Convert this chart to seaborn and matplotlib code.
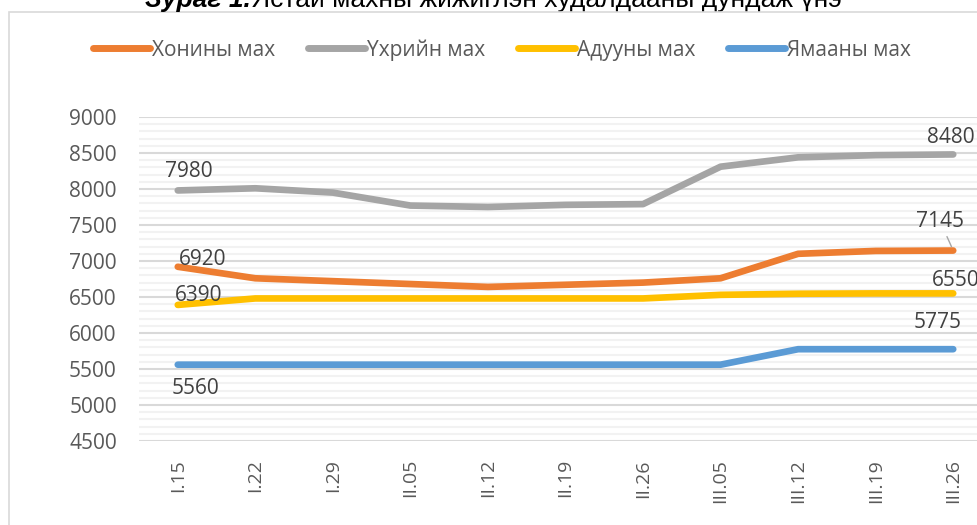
"""
plot.py — Average retail price of bone-in meat (line chart, Excel style).
"""

import matplotlib
matplotlib.use("Agg")
import matplotlib.pyplot as plt
import matplotlib.patches as mpatches
from matplotlib.ticker import MultipleLocator
import pandas as pd
import seaborn as sns


# ─────────────────────────────────────────────────────────────────────────────
# DATA
# ─────────────────────────────────────────────────────────────────────────────

dates = ["I.15", "I.22", "I.29", "II.05", "II.12", "II.19", "II.26",
         "III.05", "III.12", "III.19", "III.26"]

series_names = ["Хонины мах", "Үхрийн мах", "Адууны мах", "Ямааны мах"]

mutton = [6920, 6760, 6720, 6680, 6640, 6670, 6700, 6760, 7100, 7140, 7145]
beef = [7980, 8010, 7950, 7770, 7750, 7780, 7790, 8310, 8440, 8470, 8480]
horse = [6390, 6480, 6480, 6480, 6480, 6480, 6480, 6530, 6545, 6550, 6550]
goat = [5560, 5560, 5560, 5560, 5560, 5560, 5560, 5560, 5775, 5775, 5775]

title_bold = "Зураг 1."
title_rest = "Ястай махны жижиглэн худалдааны дундаж үнэ"

colors = ["#ED7D31", "#A5A5A5", "#FFC000", "#5B9BD5"]

# label offsets in pixels for first / last point of each series
first_offsets = [(25, 7), (11, 19), (21, 9), (18, -24)]
last_offsets = [(-13, 29), (-2, 17), (3, 13), (-16, 27)]

# ─────────────────────────────────────────────────────────────────────────────
# BUILD FRAME
# ─────────────────────────────────────────────────────────────────────────────

all_values = [mutton, beef, horse, goat]
rows = []
for name, vals in zip(series_names, all_values):
    for i, (d, v) in enumerate(zip(dates, vals)):
        rows.append({"idx": i, "date": d, "series": name, "price": v})
df = pd.DataFrame(rows)

# ─────────────────────────────────────────────────────────────────────────────
# PLOT
# ─────────────────────────────────────────────────────────────────────────────

sns.set_theme(style="white")
plt.rcParams["font.family"] = ["Open Sans", "DejaVu Sans"]

fig = plt.figure(figsize=(9.78, 5.25), dpi=100)
ax = fig.add_axes([139 / 978, 1 - 441 / 525, 853 / 978, 324 / 525])

sns.lineplot(
    data=df,
    x="idx",
    y="price",
    hue="series",
    hue_order=series_names,
    palette=colors,
    linewidth=4.8,
    solid_capstyle="round",
    ax=ax,
)

ax.set_xlim(-0.5, len(dates) - 0.5)
ax.set_ylim(4500, 9000)
ax.yaxis.set_major_locator(MultipleLocator(500))
ax.yaxis.set_minor_locator(MultipleLocator(100))
ax.set_xticks(range(len(dates)))
ax.set_xticklabels(dates, rotation=90)

ax.grid(which="major", axis="y", color="#D9D9D9", lw=1.5, zorder=0)
ax.grid(which="minor", axis="y", color="#F2F2F2", lw=1.5, zorder=0)
ax.grid(which="major", axis="x", visible=False)
ax.set_axisbelow(True)
for s in ax.spines.values():
    s.set_visible(False)

ax.tick_params(axis="y", which="both", length=0, pad=16, labelsize=15,
               labelcolor="#595959")
ax.tick_params(axis="x", length=0, pad=13, labelsize=14, labelcolor="#595959")
ax.set_xlabel("")
ax.set_ylabel("")

# data labels on first and last points
for k, vals in enumerate(all_values):
    for idx, off in ((0, first_offsets[k]), (len(vals) - 1, last_offsets[k])):
        arrow = None
        if k == 0 and idx == len(vals) - 1:
            arrow = dict(arrowstyle="-", color="#A6A6A6", lw=1,
                         shrinkA=1, shrinkB=3)
        ax.annotate(
            f"{vals[idx]}",
            xy=(idx, vals[idx]),
            xytext=off,
            textcoords="offset pixels",
            ha="center",
            va="center",
            fontsize=15,
            color="#404040",
            arrowprops=arrow,
            annotation_clip=False,
        )

# legend across the top
handles, labels = ax.get_legend_handles_labels()
for h in handles:
    h.set_linewidth(5)
    h.set_solid_capstyle("round")
ax.legend_.remove()
fig.legend(
    handles,
    labels,
    loc="center",
    bbox_to_anchor=(502 / 978, 1 - 50 / 525),
    ncol=4,
    frameon=False,
    fontsize=15,
    handlelength=2.75,
    handletextpad=0.1,
    columnspacing=1.55,
    labelcolor="#595959",
)

# chart frame (cropped at the right and bottom)
fig.patches.append(
    mpatches.Rectangle(
        (9 / 978, -0.2), 1.2, 1.2 - 12 / 525,
        transform=fig.transFigure, fill=False,
        edgecolor="#D9D9D9", lw=1.2,
    )
)

# title, cut off at the top of the picture
t1 = fig.text(145 / 978, 1 - 7 / 525, title_bold, fontsize=19,
              fontweight="bold", fontstyle="italic",
              family=["Liberation Sans", "DejaVu Sans"],
              ha="left", va="baseline", color="black")
ax.annotate(title_rest, xy=(1, 0), xycoords=t1, ha="left", va="bottom",
            fontsize=19, family=["Liberation Sans", "DejaVu Sans"],
            color="black", annotation_clip=False)

plt.savefig("out.png", dpi=100)
